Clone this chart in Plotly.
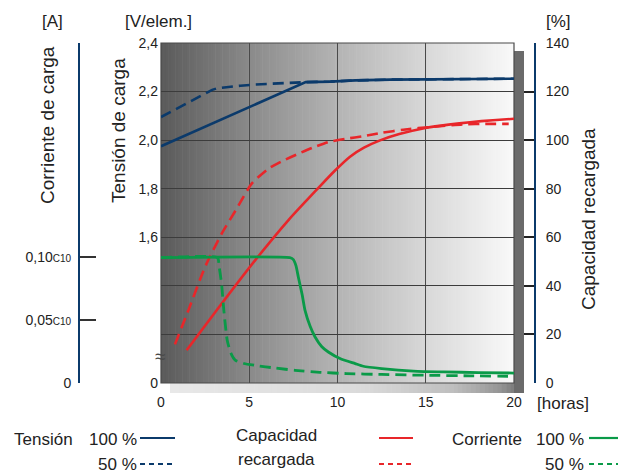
import plotly.graph_objects as go

# ---------------- data ----------------
hour_ticks = [0, 5, 10, 15, 20]
hour_tick_labels = ["0", "5", "10", "15", "20"]

volt_tickvals = [1.0, 1.6, 1.8, 2.0, 2.2, 2.4]
volt_ticktext = ["0", "1,6", "1,8", "2,0", "2,2", "2,4"]

cur_tickvals = [0, 0.05, 0.10, 0.27]
cur_ticktext = ["0", "0,05<span style='font-size:10px'>C10</span>",
                "0,10<span style='font-size:10px'>C10</span>", ""]

# Tension 100 %
t_v100 = [0, 8.2, 9.6, 11, 13, 15, 17, 20]
v100 = [1.975, 2.239, 2.241, 2.246, 2.249, 2.251, 2.252, 2.253]
# Tension 50 %
t_v50 = [0, 1.0, 2.0, 2.6, 2.9, 3.2, 3.6, 4.5, 5.3, 6.5, 8.2, 9.6, 11, 13, 15, 17, 20]
v50 = [2.095, 2.134, 2.173, 2.196, 2.207, 2.214, 2.218, 2.224, 2.229, 2.234, 2.239,
       2.241, 2.246, 2.249, 2.251, 2.252, 2.253]

# Capacidad recargada 100 %
t_c100 = [1.45, 3.44, 5.33, 7.21, 8.25, 9.0, 9.86, 10.71, 11.5, 12.41, 13.5, 15.05,
          16.3, 17.51, 18.8, 20]
c100 = [13.5, 32.7, 50.5, 67.0, 75.2, 81.0, 87.5, 93.2, 96.9, 99.9, 102.5, 105.1,
        106.4, 107.4, 108.2, 108.8]
# Capacidad recargada 50 %
t_c50 = [0.79, 1.55, 2.49, 3.44, 4.29, 5.14, 6.08, 6.9, 7.78, 8.6, 9.48, 10.5, 11.46,
         12.5, 13.73, 15.4, 17.13, 18.5, 19.7]
c50 = [15.9, 29.9, 47.7, 61.5, 71.8, 82.1, 88.2, 91.5, 94.4, 96.9, 99.2, 100.6, 101.6,
       103.0, 104.3, 105.5, 106.5, 106.7, 106.7]

# Corriente 100 %
t_i100 = [0, 7.3, 7.5, 7.65, 7.78, 8.0, 8.16, 8.45, 8.73, 9.1, 9.48, 10.2, 11, 11.46,
          12.5, 14.3, 16, 18, 20]
i100 = [0.0995, 0.0995, 0.098, 0.093, 0.0842, 0.070, 0.0577, 0.045, 0.0365, 0.029,
        0.0246, 0.019, 0.0154, 0.0133, 0.0115, 0.0095, 0.0088, 0.0083, 0.0079]
# Corriente 50 %
t_i50 = [0, 3.2, 3.3, 3.43, 3.56, 3.75, 3.95, 4.22, 4.7, 5.33, 6.5, 7.59, 9, 10.5,
         12.5, 15.2, 17.5, 20]
i50 = [0.0995, 0.0995, 0.092, 0.079, 0.0577, 0.0339, 0.024, 0.018, 0.0155, 0.014,
       0.0118, 0.0101, 0.0085, 0.0075, 0.0068, 0.0061, 0.0057, 0.0053]

# ---------------- style / geometry ----------------
W, H = 618, 473
ML, MR, MT, MB = 10, 10, 43, 90
PW = W - ML - MR
PH = H - MT - MB

def X(px):
    return (px - ML) / PW

def Y(py):
    return (H - MB - py) / PH

NAVY = "#0b3a6b"
RED = "#e8262a"
GREEN = "#0a9a48"
TXT = "#222222"
FONT = "Liberation Sans"
DASH = "11px,6px"

PLOT_L, PLOT_R = 161, 514

fig = go.Figure()

fig.add_trace(go.Scatter(x=t_v100, y=v100, yaxis="y2", mode="lines",
                         line=dict(color=NAVY, width=2.6)))
fig.add_trace(go.Scatter(x=t_v50, y=v50, yaxis="y2", mode="lines",
                         line=dict(color=NAVY, width=2.6, dash=DASH)))
fig.add_trace(go.Scatter(x=t_c100, y=c100, yaxis="y", mode="lines",
                         line=dict(color=RED, width=2.6, shape="spline", smoothing=0.6)))
fig.add_trace(go.Scatter(x=t_c50, y=c50, yaxis="y", mode="lines",
                         line=dict(color=RED, width=2.6, dash=DASH, shape="spline",
                                   smoothing=0.6)))
fig.add_trace(go.Scatter(x=t_i100, y=i100, yaxis="y3", mode="lines",
                         line=dict(color=GREEN, width=2.8, shape="spline", smoothing=0.5)))
fig.add_trace(go.Scatter(x=t_i50, y=i50, yaxis="y3", mode="lines",
                         line=dict(color=GREEN, width=2.8, dash=DASH, shape="spline",
                                   smoothing=0.5)))

shapes = []

# plot background gradient (dark left -> white right)
stops = [(0.0, 90), (0.25, 138), (0.5, 180), (0.75, 216), (1.0, 249)]

def gray_at(f, st):
    for (a, ga), (b, gb) in zip(st[:-1], st[1:]):
        if a <= f <= b:
            g = ga + (gb - ga) * (f - a) / (b - a)
            return int(round(g))
    return st[-1][1]

N = 150
for k in range(N):
    f0 = k / N
    f1 = (k + 1) / N
    g = gray_at((f0 + f1) / 2, stops)
    x0 = PLOT_L + (PLOT_R - PLOT_L) * f0
    x1 = PLOT_L + (PLOT_R - PLOT_L) * f1 + 0.6
    shapes.append(dict(type="rect", xref="paper", yref="paper", x0=X(x0), x1=X(min(x1, PLOT_R)),
                       y0=0, y1=1, fillcolor=f"rgb({g},{g},{g})", line=dict(width=0),
                       layer="below"))

# bottom shadow bar
sh_stops = [(0.0, 232), (0.55, 218), (0.8, 190), (0.93, 150), (1.0, 108)]
SB_L, SB_R = 170, 524
NS = 80
for k in range(NS):
    f0 = k / NS
    f1 = (k + 1) / NS
    g = gray_at((f0 + f1) / 2, sh_stops)
    x0 = SB_L + (SB_R - SB_L) * f0
    x1 = SB_L + (SB_R - SB_L) * f1 + 0.6
    shapes.append(dict(type="rect", xref="paper", yref="paper", x0=X(x0), x1=X(min(x1, SB_R)),
                       y0=Y(393), y1=Y(383), fillcolor=f"rgb({g},{g},{g})",
                       line=dict(width=0), layer="below"))
# right shadow bar
shapes.append(dict(type="rect", xref="paper", yref="paper", x0=X(514), x1=X(524),
                   y0=Y(393), y1=Y(51), fillcolor="#6b6b6b", line=dict(width=0),
                   layer="below"))
# plot frame
shapes.append(dict(type="rect", xref="paper", yref="paper", x0=X(PLOT_L), x1=X(PLOT_R),
                   y0=0, y1=1, line=dict(color="#4a4a4a", width=1.2),
                   fillcolor="rgba(0,0,0,0)", layer="below"))

# legend line samples
def seg(x0, x1, y, color, dash):
    return dict(type="line", xref="paper", yref="paper", x0=X(x0), x1=X(x1),
                y0=Y(y), y1=Y(y), line=dict(color=color, width=2.2, dash=dash))

shapes += [
    seg(140, 175, 438, NAVY, "solid"), seg(140, 175, 464, NAVY, "5px,4px"),
    seg(379, 413, 438, RED, "solid"), seg(379, 413, 464, RED, "5px,4px"),
    seg(589, 620, 438, GREEN, "solid"), seg(589, 620, 464, GREEN, "5px,4px"),
]

ann = []

def txt(x, y, s, size=17, xanchor="center", angle=0, color=TXT):
    ann.append(dict(xref="paper", yref="paper", x=X(x), y=Y(y), text=s, showarrow=False,
                    xanchor=xanchor, yanchor="middle", textangle=angle,
                    font=dict(family=FONT, size=size, color=color)))

txt(52, 21, "[A]")
txt(158, 21, "[V/elem.]")
txt(558, 21, "[%]")
txt(563, 403, "[horas]")
txt(47, 125, "Corriente de carga", size=19, angle=-90)
txt(118, 131, "Tensión de carga", size=19, angle=-90)
txt(589, 219, "Capacidad recargada", size=19, angle=-90)
txt(160, 356, "≈", size=19, color="#4a4a4a")

txt(12, 439, "Tensión", xanchor="left")
txt(139, 439, "100 %", xanchor="right")
txt(139, 464, "50 %", xanchor="right")
txt(276, 436, "Capacidad")
txt(276, 459, "recargada")
txt(450, 439, "Corriente", xanchor="left")
txt(586, 439, "100 %", xanchor="right")
txt(586, 464, "50 %", xanchor="right")

tickfont = dict(family=FONT, size=14, color=TXT)

fig.update_layout(
    width=W, height=H,
    margin=dict(l=ML, r=MR, t=MT, b=MB, pad=0, autoexpand=False),
    paper_bgcolor="white",
    plot_bgcolor="rgba(0,0,0,0)",
    showlegend=False,
    shapes=shapes,
    annotations=ann,
    xaxis=dict(domain=[X(PLOT_L), X(PLOT_R)], range=[0, 20], tickvals=hour_ticks,
               ticktext=hour_tick_labels, showgrid=True, gridcolor="#4a4a4a", gridwidth=1.2,
               zeroline=False, showline=False, ticks="", tickfont=tickfont,
               ticklabelstandoff=9, automargin=False),
    yaxis=dict(range=[0, 140], tickvals=[0, 20, 40, 60, 80, 100, 120, 140],
               anchor="free", position=X(535), side="right",
               showgrid=True, gridcolor="#3c3c3c", gridwidth=1.2, zeroline=False,
               showline=True, linecolor=NAVY, linewidth=2,
               ticks="inside", ticklen=10, tickwidth=1.5, tickcolor="#222222",
               tickfont=tickfont, ticklabelstandoff=7, automargin=False),
    yaxis2=dict(range=[1.0, 2.4], tickvals=volt_tickvals, ticktext=volt_ticktext,
                overlaying="y", anchor="x", side="left", showgrid=False, zeroline=False,
                showline=False, ticks="", tickfont=tickfont, ticklabelstandoff=2,
                automargin=False),
    yaxis3=dict(range=[0, 0.27], tickvals=cur_tickvals, ticktext=cur_ticktext,
                overlaying="y", anchor="free", position=X(79), side="left",
                showgrid=False, zeroline=False, showline=True, linecolor=NAVY, linewidth=2,
                ticks="inside", ticklen=16, tickwidth=1.5, tickcolor="#333333",
                tickfont=tickfont, ticklabelstandoff=4, automargin=False),
)

fig.write_html("out.html", config={"displayModeBar": False},
               post_script="document.body.style.margin='0px';document.body.style.padding='0px';")
